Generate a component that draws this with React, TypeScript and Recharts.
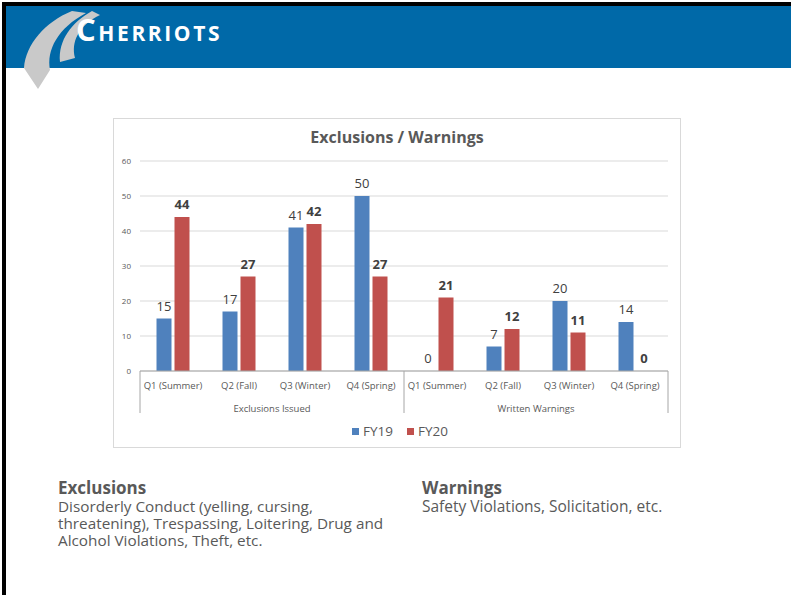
import { BarChart, Bar, XAxis, YAxis, CartesianGrid, Legend, LabelList } from 'recharts';

// Values
const quarters = [
  'Q1 (Summer)', 'Q2 (Fall)', 'Q3 (Winter)', 'Q4 (Spring)',
  'Q1 (Summer)', 'Q2 (Fall)', 'Q3 (Winter)', 'Q4 (Spring)',
];
const groups = ['Exclusions Issued', 'Written Warnings'];
const fy19 = [15, 17, 41, 50, 0, 7, 20, 14];
const fy20 = [44, 27, 42, 27, 21, 12, 11, 0];
const yTicks = [0, 10, 20, 30, 40, 50, 60];

const chartData = quarters.map((q, i) => ({
  quarter: q,
  group: groups[Math.floor(i / 4)],
  FY19: fy19[i],
  FY20: fy20[i],
}));

const BLUE = '#4F81BD';
const RED = '#C0504D';
const GREY_TEXT = '#595959';
const FONT = '"Open Sans", sans-serif';

// category tick + group label + separator lines below axis
const GroupedTick = (props: any) => {
  const { x, y, payload, index } = props;
  const half = payload.offset ?? props.width / 16;
  const i = payload.index ?? index;
  const row = chartData[i];
  return (
    <g>
      <text x={x} y={y + 14} textAnchor="middle" dominantBaseline="central" fill={GREY_TEXT} fontSize={9.5} fontFamily={FONT}>
        {payload.value}
      </text>
      {i % 4 === 0 && (
        <>
          <line x1={x - half} y1={y} x2={x - half} y2={y + 42} stroke="#a6a6a6" strokeWidth={1} />
          <text x={x + 3 * half} y={y + 37} textAnchor="middle" dominantBaseline="central" fill={GREY_TEXT} fontSize={9.5} fontFamily={FONT}>
            {row.group}
          </text>
        </>
      )}
      {i === chartData.length - 1 && (
        <line x1={x + half} y1={y} x2={x + half} y2={y + 42} stroke="#a6a6a6" strokeWidth={1} />
      )}
    </g>
  );
};

// label above each bar, also for zero values
const makeValueLabel = (bold: boolean) => (props: any) => {
  const { x, y, width, value } = props;
  if (value == null) return null;
  return (
    <text x={x + width / 2} y={y - 8} textAnchor="middle" fill="#404040" fontSize={13} fontWeight={bold ? 700 : 400} fontFamily={FONT}>
      {String(value)}
    </text>
  );
};

const LegendContent = () => (
  <div style={{ display: 'flex', justifyContent: 'center', alignItems: 'center', height: 16, paddingLeft: 18, fontFamily: FONT, fontSize: 13.5, color: GREY_TEXT }}>
    <span style={{ width: 7, height: 7, background: BLUE, display: 'inline-block', marginRight: 4 }} />
    <span style={{ marginRight: 14 }}>FY19</span>
    <span style={{ width: 7, height: 7, background: RED, display: 'inline-block', marginRight: 4 }} />
    <span>FY20</span>
  </div>
);

const Swoosh = () => (
  <svg width={120} height={95} style={{ position: 'absolute', left: 0, top: 0 }}>
    <path d="M 72 11 C 45 22, 26 44, 24 68 L 38 89 L 50 70 C 46 50, 58 28, 86 13 Z" fill="#c9c9c9" />
    <path d="M 92 11 C 72 22, 58 40, 60 62 L 75 58 C 71 42, 78 26, 100 15 Z" fill="#c9c9c9" />
  </svg>
);

const App = () => {
  return (
    <div style={{ position: 'absolute', left: 0, top: 0, width: 791, height: 595, background: '#fff', overflow: 'hidden', fontFamily: FONT }}>
      {/* slide frame */}
      <div style={{ position: 'absolute', left: 2, top: 2, width: 789, height: 4, background: '#000' }} />
      <div style={{ position: 'absolute', left: 2, top: 2, width: 4, height: 593, background: '#000' }} />
      {/* header band */}
      <div style={{ position: 'absolute', left: 6, top: 6, width: 785, height: 62, background: '#0069A8' }} />
      <Swoosh />
      <div style={{ position: 'absolute', left: 76, top: 8, color: '#fff', fontWeight: 700, whiteSpace: 'nowrap', letterSpacing: 2.6 }}>
        <span style={{ fontSize: 31 }}>C</span>
        <span style={{ fontSize: 21 }}>HERRIOTS</span>
      </div>

      {/* chart box */}
      <div style={{ position: 'absolute', left: 113, top: 118, width: 566, height: 328, border: '1px solid #d9d9d9' }}>
        <div style={{ position: 'absolute', left: 0, top: 7, width: 566, textAlign: 'center', fontSize: 16, fontWeight: 700, color: GREY_TEXT }}>
          Exclusions / Warnings
        </div>
        <BarChart
          width={566}
          height={328}
          data={chartData}
          margin={{ top: 42, right: 12, bottom: 8, left: 0 }}
          barGap={3}
          barCategoryGap="25%"
        >
          <CartesianGrid vertical={false} stroke="#d9d9d9" />
          <XAxis
            dataKey="quarter"
            interval={0}
            height={52}
            tickSize={0}
            tickMargin={0}
            tickLine={false}
            axisLine={{ stroke: '#a6a6a6' }}
            tick={<GroupedTick />}
          />
          <YAxis
            domain={[0, 60]}
            ticks={yTicks}
            width={26}
            axisLine={false}
            tickLine={false}
            tickSize={0}
            tickMargin={9}
            tick={{ fill: GREY_TEXT, fontSize: 8, fontFamily: FONT }}
          />
          <Legend verticalAlign="bottom" content={<LegendContent />} />
          <Bar dataKey="FY19" fill={BLUE} minPointSize={0.01} isAnimationActive={false}>
            <LabelList dataKey="FY19" content={makeValueLabel(false)} />
          </Bar>
          <Bar dataKey="FY20" fill={RED} minPointSize={0.01} isAnimationActive={false}>
            <LabelList dataKey="FY20" content={makeValueLabel(true)} />
          </Bar>
        </BarChart>
      </div>

      {/* notes under the chart */}
      <div style={{ position: 'absolute', left: 58, top: 477, width: 345, color: GREY_TEXT }}>
        <div style={{ fontSize: 17, fontWeight: 700, lineHeight: '21px' }}>Exclusions</div>
        <div style={{ fontSize: 15.3, lineHeight: '16.8px' }}>
          Disorderly Conduct (yelling, cursing,<br />
          threatening), Trespassing, Loitering, Drug and<br />
          Alcohol Violations, Theft, etc.
        </div>
      </div>
      <div style={{ position: 'absolute', left: 422, top: 477, width: 320, color: GREY_TEXT }}>
        <div style={{ fontSize: 17, fontWeight: 700, lineHeight: '21px' }}>Warnings</div>
        <div style={{ fontSize: 15.5, lineHeight: '16.8px' }}>Safety Violations, Solicitation, etc.</div>
      </div>
    </div>
  );
};

export default App;
